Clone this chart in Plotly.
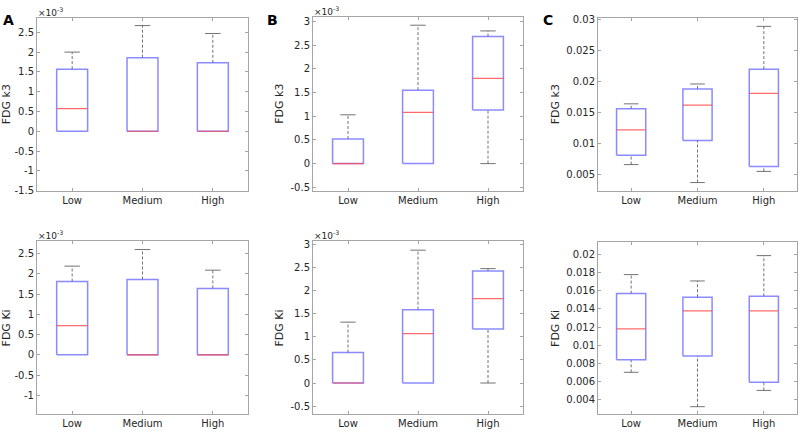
import plotly.graph_objects as go

categories = ["Low", "Medium", "High"]

# Panel A (FDG k3, x10^-3) top / (FDG Ki, x10^-3) bottom
A_k3_lo = [0.0, 0.0, 0.0]
A_k3_q1 = [0.0, 0.0, 0.0]
A_k3_med = [0.57, 0.0, 0.0]
A_k3_q3 = [1.57, 1.86, 1.73]
A_k3_hi = [2.0, 2.67, 2.47]

A_ki_lo = [0.0, 0.0, 0.0]
A_ki_q1 = [0.0, 0.0, 0.0]
A_ki_med = [0.72, 0.0, 0.0]
A_ki_q3 = [1.81, 1.86, 1.64]
A_ki_hi = [2.19, 2.6, 2.09]

# Panel B
B_k3_lo = [0.0, 0.0, 0.0]
B_k3_q1 = [0.0, 0.0, 1.13]
B_k3_med = [0.0, 1.08, 1.8]
B_k3_q3 = [0.52, 1.55, 2.68]
B_k3_hi = [1.03, 2.92, 2.8]

B_ki_lo = [0.0, 0.0, 0.0]
B_ki_q1 = [0.0, 0.0, 1.17]
B_ki_med = [0.0, 1.07, 1.83]
B_ki_q3 = [0.66, 1.59, 2.43]
B_ki_hi = [1.32, 2.88, 2.48]

# Panel C
C_k3_lo = [0.0066, 0.0037, 0.0055]
C_k3_q1 = [0.0081, 0.0105, 0.0063]
C_k3_med = [0.0122, 0.0162, 0.0181]
C_k3_q3 = [0.0156, 0.0188, 0.0220]
C_k3_hi = [0.0164, 0.0196, 0.0289]

C_ki_lo = [0.0070, 0.0032, 0.0050]
C_ki_q1 = [0.0084, 0.0088, 0.0059]
C_ki_med = [0.0118, 0.0138, 0.0138]
C_ki_q3 = [0.0157, 0.0153, 0.0154]
C_ki_hi = [0.0178, 0.0171, 0.0199]

ticks_A_top = [-1.5, -1, -0.5, 0, 0.5, 1, 1.5, 2, 2.5]
ticks_A_bot = [-1, -0.5, 0, 0.5, 1, 1.5, 2, 2.5]
ticks_B_top = [-0.5, 0, 0.5, 1, 1.5, 2, 2.5, 3]
ticks_B_bot = [-0.5, 0, 0.5, 1, 1.5, 2, 2.5, 3]
ticks_C_top = [0.005, 0.01, 0.015, 0.02, 0.025, 0.03]
ticks_C_bot = [0.004, 0.006, 0.008, 0.01, 0.012, 0.014, 0.016, 0.018, 0.02]

panels = [
    dict(lo=A_k3_lo, q1=A_k3_q1, med=A_k3_med, q3=A_k3_q3, hi=A_k3_hi,
         ticks=ticks_A_top, yr=[-1.5, 2.87], title="FDG k3", exp=True,
         xd=[37, 248], yd=[14, 191], letter="A"),
    dict(lo=B_k3_lo, q1=B_k3_q1, med=B_k3_med, q3=B_k3_q3, hi=B_k3_hi,
         ticks=ticks_B_top, yr=[-0.57, 3.1], title="FDG k3", exp=True,
         xd=[313, 523], yd=[13, 191], letter="B"),
    dict(lo=C_k3_lo, q1=C_k3_q1, med=C_k3_med, q3=C_k3_q3, hi=C_k3_hi,
         ticks=ticks_C_top, yr=[0.0024, 0.0303], title="FDG k3", exp=False,
         xd=[598, 797], yd=[14, 191], letter="C"),
    dict(lo=A_ki_lo, q1=A_ki_q1, med=A_ki_med, q3=A_ki_q3, hi=A_ki_hi,
         ticks=ticks_A_bot, yr=[-1.47, 2.8], title="FDG Ki", exp=True,
         xd=[37, 248], yd=[243, 420], letter=None),
    dict(lo=B_ki_lo, q1=B_ki_q1, med=B_ki_med, q3=B_ki_q3, hi=B_ki_hi,
         ticks=ticks_B_bot, yr=[-0.68, 3.07], title="FDG Ki", exp=True,
         xd=[313, 523], yd=[243, 420], letter=None),
    dict(lo=C_ki_lo, q1=C_ki_q1, med=C_ki_med, q3=C_ki_q3, hi=C_ki_hi,
         ticks=ticks_C_bot, yr=[0.00235, 0.02136], title="FDG Ki", exp=False,
         xd=[598, 797], yd=[244, 420], letter=None),
]

W, H = 800, 436
HW = 0.22   # box half-width
CW = 0.11   # cap half-width
BOX_COLOR = "rgba(90,90,255,0.7)"
MED_COLOR = "rgba(255,70,70,0.8)"
WHISK_COLOR = "rgba(90,90,90,0.85)"
FONT = "DejaVu Sans"
TXT = "rgb(38,38,38)"
AXC = "rgb(165,165,165)"

fig = go.Figure()
layout = dict(width=W, height=H, margin=dict(l=0, r=0, t=0, b=0),
              paper_bgcolor="white", plot_bgcolor="white", showlegend=False,
              font=dict(family=FONT, size=10, color=TXT))
annotations = []

for i, p in enumerate(panels):
    n = "" if i == 0 else str(i + 1)
    xa, ya = "x" + n, "y" + n
    xs = list(range(1, len(categories) + 1))
    for j, x in enumerate(xs):
        lo, q1, md, q3, hi = p["lo"][j], p["q1"][j], p["med"][j], p["q3"][j], p["hi"][j]
        if hi > q3:
            fig.add_trace(go.Scatter(x=[x, x], y=[q3, hi], mode="lines", xaxis=xa, yaxis=ya,
                                     line=dict(color=WHISK_COLOR, width=1, dash="3px,2px"), hoverinfo="skip"))
            fig.add_trace(go.Scatter(x=[x - CW, x + CW], y=[hi, hi], mode="lines", xaxis=xa, yaxis=ya,
                                     line=dict(color=WHISK_COLOR, width=1), hoverinfo="skip"))
        if lo < q1:
            fig.add_trace(go.Scatter(x=[x, x], y=[lo, q1], mode="lines", xaxis=xa, yaxis=ya,
                                     line=dict(color=WHISK_COLOR, width=1, dash="3px,2px"), hoverinfo="skip"))
            fig.add_trace(go.Scatter(x=[x - CW, x + CW], y=[lo, lo], mode="lines", xaxis=xa, yaxis=ya,
                                     line=dict(color=WHISK_COLOR, width=1), hoverinfo="skip"))
        fig.add_trace(go.Scatter(x=[x - HW, x + HW, x + HW, x - HW, x - HW],
                                 y=[q1, q1, q3, q3, q1], mode="lines", xaxis=xa, yaxis=ya,
                                 line=dict(color=BOX_COLOR, width=1.5), hoverinfo="skip"))
        fig.add_trace(go.Scatter(x=[x - HW, x + HW], y=[md, md], mode="lines", xaxis=xa, yaxis=ya,
                                 line=dict(color=MED_COLOR, width=1.2), hoverinfo="skip"))

    xd = [p["xd"][0] / W, p["xd"][1] / W]
    yd = [1 - p["yd"][1] / H, 1 - p["yd"][0] / H]
    ticktext = [("%g" % t) for t in p["ticks"]]
    layout["xaxis" + n] = dict(domain=xd, range=[0.5, 3.5], tickvals=xs, ticktext=categories,
                               ticks="inside", ticklen=3, tickcolor=AXC, showline=True, linecolor=AXC,
                               linewidth=1, mirror="ticks", showgrid=False, zeroline=False,
                               anchor=ya, tickfont=dict(size=10, color=TXT, family=FONT))
    layout["yaxis" + n] = dict(domain=yd, range=p["yr"], tickvals=p["ticks"], ticktext=ticktext,
                               ticks="inside", ticklen=3, tickcolor=AXC, showline=True, linecolor=AXC,
                               linewidth=1, mirror="ticks", showgrid=False, zeroline=False,
                               anchor=xa, tickfont=dict(size=10, color=TXT, family=FONT),
                               title=dict(text=p["title"], font=dict(size=11, color=TXT, family=FONT),
                                          standoff=4))
    if p["exp"]:
        annotations.append(dict(text="×10<sup>-3</sup>", xref="paper", yref="paper",
                                x=xd[0], y=yd[1], xanchor="left", yanchor="bottom",
                                showarrow=False, font=dict(size=9, color=TXT, family=FONT),
                                xshift=-1, yshift=-2))
    if p["letter"]:
        lx = {"A": 1, "B": 265, "C": 541}[p["letter"]]
        annotations.append(dict(text="<b>%s</b>" % p["letter"], xref="paper", yref="paper",
                                x=lx / W, y=1 - 6 / H, xanchor="left", yanchor="top",
                                showarrow=False, font=dict(size=14, color="black", family=FONT)))

layout["annotations"] = annotations
fig.update_layout(**layout)
fig.write_html("out.html", config={"displayModeBar": False},
               post_script="document.body.style.margin='0';document.body.style.overflow='hidden';")
